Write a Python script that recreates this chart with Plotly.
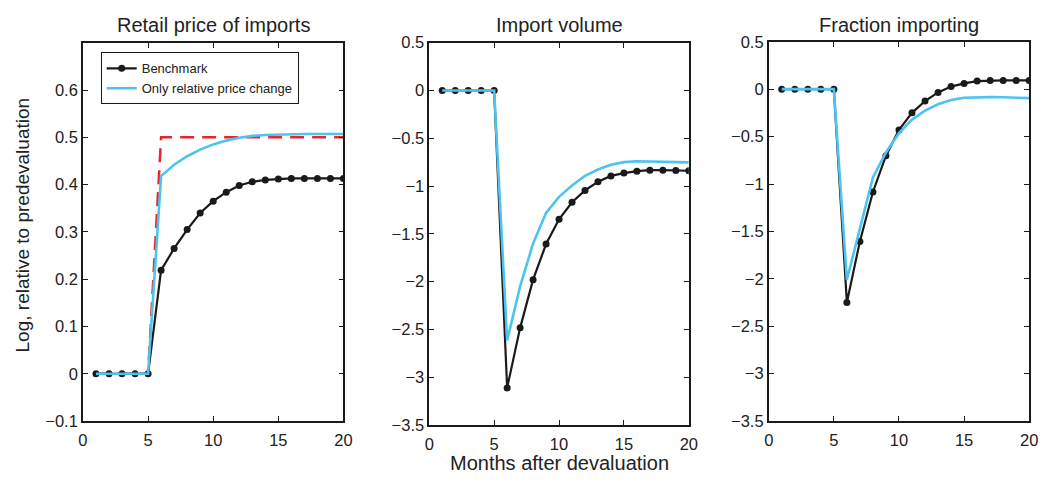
import plotly.graph_objects as go

# ---- data ----
months = list(range(1, 21))

retail_benchmark = [0, 0, 0, 0, 0, 0.219, 0.265, 0.305, 0.340, 0.365, 0.384, 0.398, 0.406, 0.410,
                    0.412, 0.413, 0.413, 0.413, 0.413, 0.413]
retail_relative = [0, 0, 0, 0, 0, 0.418, 0.442, 0.460, 0.474, 0.485, 0.493, 0.499, 0.503, 0.505,
                   0.506, 0.507, 0.507, 0.507, 0.507, 0.507]
retail_full_passthrough = [0, 0, 0, 0, 0, 0.5, 0.5, 0.5, 0.5, 0.5, 0.5, 0.5, 0.5, 0.5,
                           0.5, 0.5, 0.5, 0.5, 0.5, 0.5]

volume_benchmark = [0, 0, 0, 0, 0, -3.112, -2.484, -1.980, -1.607, -1.348, -1.170, -1.046, -0.955,
                    -0.894, -0.864, -0.844, -0.834, -0.834, -0.836, -0.840]
volume_relative = [0, 0, 0, 0, 0, -2.615, -2.05, -1.60, -1.28, -1.113, -0.995, -0.894, -0.827,
                   -0.777, -0.750, -0.740, -0.742, -0.745, -0.748, -0.752]

fraction_benchmark = [0, 0, 0, 0, 0, -2.249, -1.605, -1.084, -0.701, -0.430, -0.250, -0.125, -0.034,
                      0.027, 0.061, 0.085, 0.092, 0.092, 0.092, 0.092]
fraction_relative = [0, 0, 0, 0, 0, -2.01, -1.46, -0.93, -0.667, -0.464, -0.321, -0.227, -0.159,
                     -0.115, -0.091, -0.084, -0.084, -0.086, -0.088, -0.094]

panel_titles = ["Retail price of imports", "Import volume", "Fraction importing"]
series_names = ["Benchmark", "Only relative price change"]

x_ticks = [0, 5, 10, 15, 20]
y1_ticks = [-0.1, 0, 0.1, 0.2, 0.3, 0.4, 0.5, 0.6]
y1_ticktext = ["\u22120.1", "0", "0.1", "0.2", "0.3", "0.4", "0.5", "0.6"]
y23_ticks = [0.5, 0, -0.5, -1, -1.5, -2, -2.5, -3, -3.5]
y23_ticktext = ["0.5", "0", "\u22120.5", "\u22121", "\u22121.5", "\u22122", "\u22122.5", "\u22123", "\u22123.5"]

# ---- styling ----
W, H = 1054, 485
FONT = "Liberation Sans, Arial, Helvetica, sans-serif"
BLACK = "#1a1a1a"
BLUE = "#4cc4ef"
RED = "#e8252b"

def px_x(p):
    return p / W

def px_y(p):
    return 1 - p / H

fig = go.Figure()

# panel 1
fig.add_trace(go.Scatter(x=months, y=retail_full_passthrough, mode="lines",
                         line=dict(color=RED, width=2.5, dash="14px,8px"), showlegend=False,
                         xaxis="x", yaxis="y"))
fig.add_trace(go.Scatter(x=months, y=retail_benchmark, mode="lines+markers", name=series_names[0],
                         line=dict(color=BLACK, width=2.2), marker=dict(color=BLACK, size=7),
                         xaxis="x", yaxis="y"))
fig.add_trace(go.Scatter(x=months, y=retail_relative, mode="lines", name=series_names[1],
                         line=dict(color=BLUE, width=2.6), xaxis="x", yaxis="y"))
# panel 2
fig.add_trace(go.Scatter(x=months, y=volume_benchmark, mode="lines+markers", showlegend=False,
                         line=dict(color=BLACK, width=2.2), marker=dict(color=BLACK, size=7),
                         xaxis="x2", yaxis="y2"))
fig.add_trace(go.Scatter(x=months, y=volume_relative, mode="lines", showlegend=False,
                         line=dict(color=BLUE, width=2.6), xaxis="x2", yaxis="y2"))
# panel 3
fig.add_trace(go.Scatter(x=months, y=fraction_benchmark, mode="lines+markers", showlegend=False,
                         line=dict(color=BLACK, width=2.2), marker=dict(color=BLACK, size=7),
                         xaxis="x3", yaxis="y3"))
fig.add_trace(go.Scatter(x=months, y=fraction_relative, mode="lines", showlegend=False,
                         line=dict(color=BLUE, width=2.6), xaxis="x3", yaxis="y3"))

axis_common = dict(showline=True, mirror="ticks", linecolor=BLACK, linewidth=1.6,
                   ticks="inside", ticklen=5, tickwidth=1.2, tickcolor=BLACK,
                   showgrid=False, zeroline=False,
                   tickfont=dict(family=FONT, size=16.5, color="#222"))

panels = [
    (79, 343, 35, 428),
    (430, 693, 35, 432),
    (774, 1038, 34, 428),
]

layout = dict(
    width=W, height=H, autosize=False,
    margin=dict(l=0, r=0, t=0, b=0, pad=0),
    paper_bgcolor="white", plot_bgcolor="white",
    font=dict(family=FONT, color="#222"),
    showlegend=True,
    legend=dict(x=px_x(97), y=px_y(45), xanchor="left", yanchor="top",
                bgcolor="white", bordercolor=BLACK, borderwidth=1,
                font=dict(family=FONT, size=13, color="#222"),
                tracegroupgap=0, itemwidth=30),
)

for i, (x0, x1, y0, y1) in enumerate(panels):
    sfx = "" if i == 0 else str(i + 1)
    layout["xaxis" + sfx] = dict(axis_common, domain=[px_x(x0), px_x(x1)], range=[0, 20],
                                 tickvals=x_ticks, anchor="y" + sfx, ticklabelstandoff=3)
    if i == 0:
        ydict = dict(axis_common, range=[-0.1, 0.7], tickvals=y1_ticks, ticktext=y1_ticktext)
    else:
        ydict = dict(axis_common, range=[-3.5, 0.5], tickvals=y23_ticks, ticktext=y23_ticktext)
    ydict.update(domain=[px_y(y1), px_y(y0)], anchor="x" + sfx)
    layout["yaxis" + sfx] = ydict

fig.update_layout(**layout)

annotations = []
for i, (x0, x1, y0, y1) in enumerate(panels):
    annotations.append(dict(text=panel_titles[i], x=px_x((x0 + x1) / 2), y=px_y(17),
                            xref="paper", yref="paper", xanchor="center", yanchor="middle",
                            showarrow=False, font=dict(family=FONT, size=20, color="#222")))
annotations.append(dict(text="Months after devaluation", x=px_x(561.5), y=px_y(472),
                        xref="paper", yref="paper", xanchor="center", yanchor="middle",
                        showarrow=False, font=dict(family=FONT, size=20, color="#222")))
annotations.append(dict(text="Log, relative to predevaluation", x=px_x(18), y=px_y(224),
                        xref="paper", yref="paper", xanchor="center", yanchor="middle",
                        textangle=-90, showarrow=False,
                        font=dict(family=FONT, size=19, color="#222")))
fig.update_layout(annotations=annotations)

fig.write_html("out.html")
